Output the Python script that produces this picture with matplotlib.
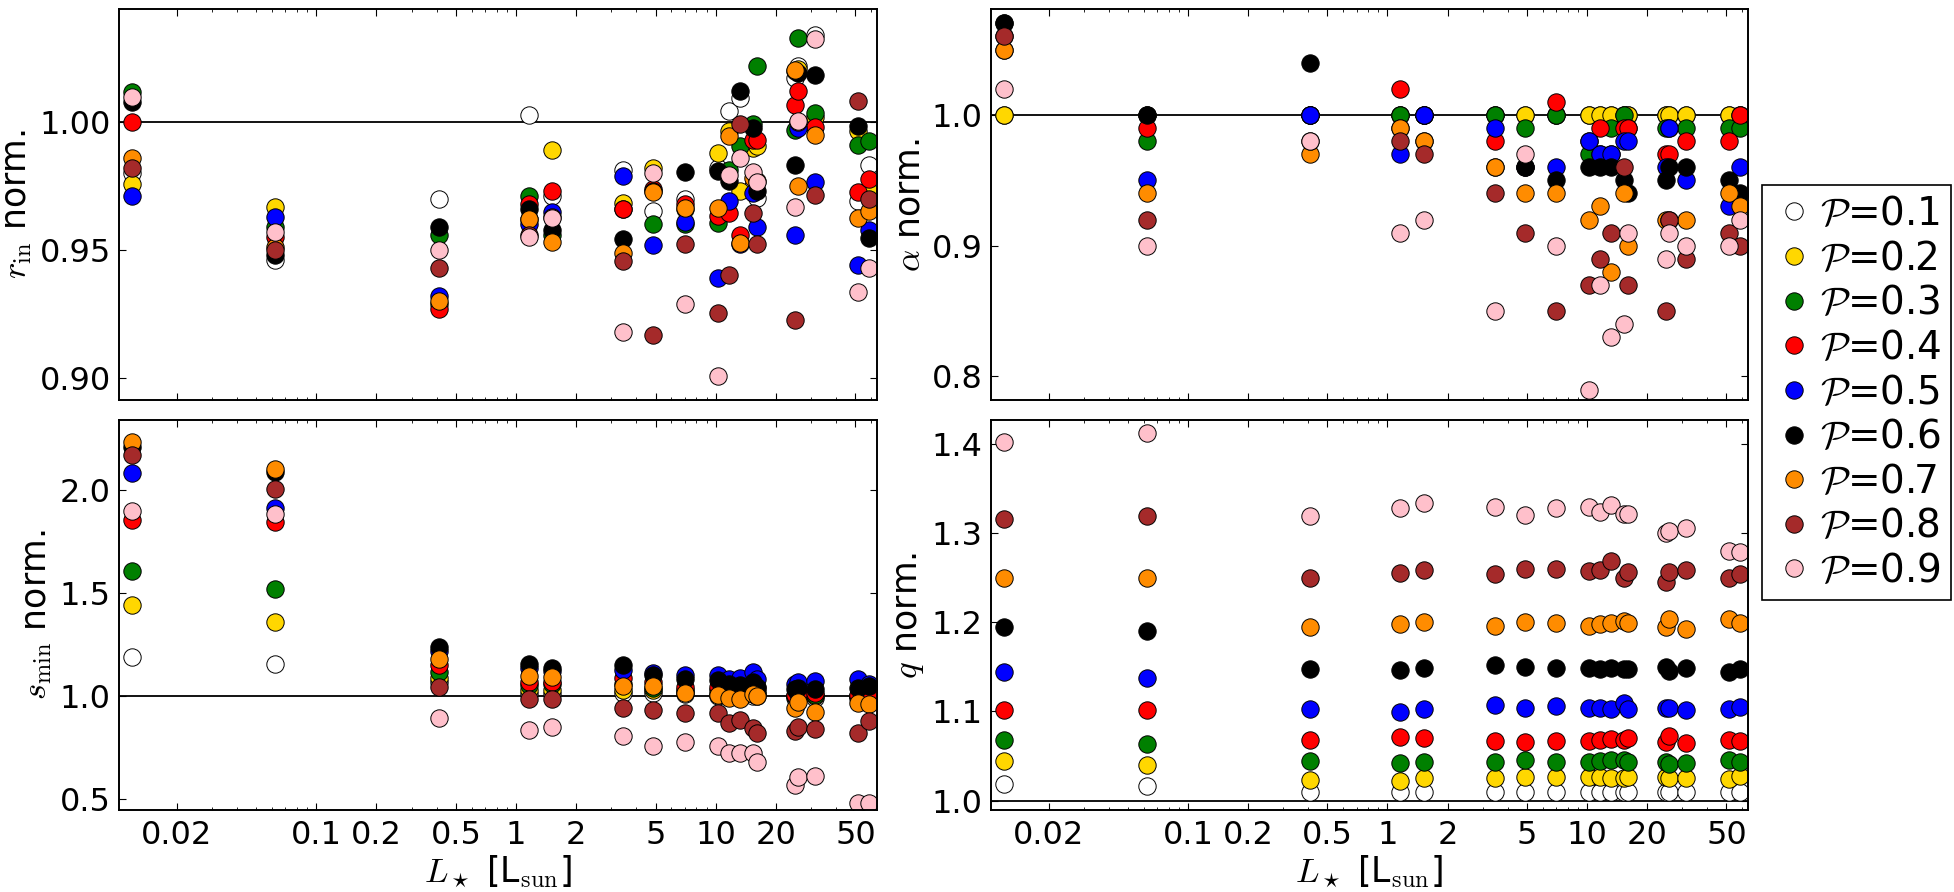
import numpy as np
import matplotlib
matplotlib.use("Agg")
import matplotlib.pyplot as plt
from matplotlib.lines import Line2D

# ---------------- data ----------------
L_star = [0.012, 0.062, 0.41, 1.16, 1.52, 3.44, 4.87, 7.02, 10.27, 11.66,
          13.2, 15.3, 16.0, 24.9, 25.9, 31.4, 51.4, 58.5]

P_values = [0.1, 0.2, 0.3, 0.4, 0.5, 0.6, 0.7, 0.8, 0.9]
P_colors = ["white", "gold", "green", "red", "blue", "black", "darkorange", "brown", "pink"]

x_ticks = [0.02, 0.1, 0.2, 0.5, 1, 2, 5, 10, 20, 50]
x_ticklabels = ["0.02", "0.1", "0.2", "0.5", "1", "2", "5", "10", "20", "50"]

# each row: one star (same order as L_star); columns: P = 0.1 ... 0.9
rin_by_star = [
    [0.980, 0.976, 1.012, 1.000, 0.971, 1.008, 0.986, 0.982, 1.010],
    [0.946, 0.967, 0.959, 0.955, 0.963, 0.948, 0.951, 0.950, 0.957],
    [0.970, 0.929, 0.956, 0.927, 0.932, 0.959, 0.930, 0.943, 0.950],
    [1.003, 0.962, 0.971, 0.968, 0.960, 0.966, 0.962, 0.956, 0.955],
    [0.971, 0.989, 0.956, 0.973, 0.965, 0.958, 0.953, 0.963, 0.9626],
    [0.9815, 0.9684, 0.966, 0.9662, 0.9789, 0.9544, 0.9489, 0.9456, 0.918],
    [0.9652, 0.982, 0.9602, 0.974, 0.9519, 0.973, 0.9726, 0.9167, 0.9802],
    [0.9698, 0.966, 0.960, 0.968, 0.9609, 0.9806, 0.9665, 0.9522, 0.9287],
    [0.982, 0.988, 0.9604, 0.9632, 0.9391, 0.9808, 0.9665, 0.9252, 0.9007],
    [1.0043, 0.9965, 0.9815, 0.9645, 0.9691, 0.9769, 0.9945, 0.940, 0.9793],
    [1.0095, 0.973, 0.9906, 0.956, 0.9522, 1.0121, 0.9528, 0.9993, 0.986],
    [0.975, 0.990, 0.9993, 0.993, 0.9724, 0.9978, 0.978, 0.9645, 0.9804],
    [0.9704, 0.9906, 1.0219, 0.9932, 0.9591, 0.973, 0.977, 0.9522, 0.9765],
    [1.0173, 1.020, 0.9971, 1.0069, 0.9557, 0.9834, 1.0206, 0.9224, 0.9669],
    [1.022, 1.021, 1.033, 1.0121, 0.9978, 1.0195, 0.9752, 1.000, 1.0004],
    [1.0343, 1.002, 1.0037, 0.998, 0.9765, 1.0186, 0.9952, 0.9717, 1.0326],
    [0.9691, 0.9965, 0.9913, 0.9728, 0.9441, 0.9987, 0.9626, 1.0082, 0.9336],
    [0.9834, 0.973, 0.9926, 0.9776, 0.958, 0.9548, 0.9652, 0.9698, 0.943],
]

alpha_by_star = [
    [1.00, 1.00, 1.07, 1.06, 1.05, 1.07, 1.05, 1.06, 1.02],
    [1.00, 1.00, 0.98, 0.99, 0.95, 1.00, 0.94, 0.92, 0.90],
    [1.00, 1.00, 1.00, 1.00, 1.00, 1.04, 0.97, 0.98, 0.98],
    [1.00, 1.00, 1.00, 1.02, 0.97, 0.99, 0.99, 0.98, 0.91],
    [1.00, 1.00, 1.00, 1.00, 1.00, 0.98, 0.98, 0.97, 0.92],
    [1.00, 1.00, 1.00, 0.98, 0.99, 0.96, 0.96, 0.94, 0.85],
    [1.00, 1.00, 0.99, 0.96, 0.96, 0.96, 0.94, 0.91, 0.97],
    [1.00, 1.00, 1.00, 1.01, 0.96, 0.95, 0.94, 0.85, 0.90],
    [1.00, 1.00, 0.97, 0.98, 0.98, 0.96, 0.92, 0.87, 0.79],
    [1.00, 1.00, 0.97, 0.99, 0.97, 0.96, 0.93, 0.89, 0.87],
    [1.00, 1.00, 0.99, 0.97, 0.97, 0.96, 0.88, 0.91, 0.83],
    [1.00, 1.00, 1.00, 0.99, 0.98, 0.95, 0.94, 0.96, 0.84],
    [1.00, 1.00, 0.99, 0.99, 0.98, 0.94, 0.90, 0.87, 0.91],
    [1.00, 1.00, 0.99, 0.97, 0.96, 0.95, 0.92, 0.85, 0.89],
    [1.00, 1.00, 0.99, 0.97, 0.99, 0.96, 0.92, 0.92, 0.91],
    [1.00, 1.00, 0.99, 0.98, 0.95, 0.96, 0.92, 0.89, 0.90],
    [1.00, 1.00, 0.99, 0.98, 0.93, 0.95, 0.94, 0.91, 0.90],
    [1.00, 1.00, 0.99, 1.00, 0.96, 0.94, 0.93, 0.90, 0.92],
]

smin_by_star = [
    [1.191, 1.442, 1.607, 1.854, 2.081, 2.21, 2.231, 2.17, 1.90],
    [1.155, 1.359, 1.519, 1.846, 1.914, 2.09, 2.102, 2.003, 1.883],
    [1.07, 1.086, 1.118, 1.15, 1.22, 1.239, 1.178, 1.045, 0.892],
    [1.01, 1.029, 1.053, 1.07, 1.134, 1.155, 1.097, 0.987, 0.835],
    [1.01, 1.029, 1.061, 1.07, 1.12, 1.134, 1.094, 0.987, 0.851],
    [1.013, 1.029, 1.06, 1.086, 1.126, 1.150, 1.050, 0.940, 0.807],
    [1.013, 1.03, 1.04, 1.07, 1.11, 1.102, 1.049, 0.932, 0.757],
    [1.01, 1.02, 1.03, 1.045, 1.102, 1.081, 1.016, 0.919, 0.775],
    [1.0, 1.01, 1.03, 1.045, 1.102, 1.078, 1.005, 0.919, 0.757],
    [1.0, 1.01, 1.02, 1.04, 1.081, 1.061, 0.989, 0.867, 0.725],
    [1.0, 1.01, 1.02, 1.04, 1.086, 1.053, 0.985, 0.883, 0.725],
    [1.0, 1.01, 1.03, 1.05, 1.118, 1.070, 1.010, 0.846, 0.725],
    [1.0, 1.01, 1.02, 1.04, 1.081, 1.045, 1.000, 0.819, 0.681],
    [0.99, 1.0, 1.0, 1.005, 1.061, 1.032, 0.940, 0.832, 0.568],
    [0.99, 1.0, 1.0, 1.01, 1.070, 1.037, 0.972, 0.851, 0.605],
    [0.99, 1.0, 1.005, 1.013, 1.074, 1.032, 0.924, 0.838, 0.613],
    [0.99, 1.0, 1.0, 1.005, 1.081, 1.037, 0.968, 0.819, 0.479],
    [0.99, 1.0, 1.013, 1.02, 1.06, 1.049, 0.961, 0.879, 0.479],
]

q_by_star = [
    [1.019, 1.044, 1.068, 1.1015, 1.1437, 1.1948, 1.250, 1.316, 1.402],
    [1.0168, 1.0399, 1.0634, 1.1015, 1.1377, 1.1899, 1.2489, 1.3187, 1.4123],
    [1.0101, 1.0231, 1.0444, 1.0679, 1.1026, 1.147, 1.1951, 1.250, 1.319],
    [1.0101, 1.0224, 1.0418, 1.0716, 1.0996, 1.1459, 1.1974, 1.2556, 1.328],
    [1.0101, 1.025, 1.0429, 1.0698, 1.1026, 1.1481, 1.2004, 1.2582, 1.3336],
    [1.0101, 1.025, 1.0437, 1.0668, 1.1071, 1.1519, 1.1955, 1.2534, 1.329],
    [1.0101, 1.0269, 1.0455, 1.066, 1.1041, 1.1496, 1.2004, 1.2593, 1.3198],
    [1.0101, 1.0269, 1.0429, 1.0672, 1.1063, 1.1481, 1.1996, 1.2593, 1.328],
    [1.0101, 1.0261, 1.0437, 1.0672, 1.1034, 1.1481, 1.1959, 1.257, 1.329],
    [1.0101, 1.0261, 1.0448, 1.0679, 1.1034, 1.147, 1.1978, 1.2582, 1.3235],
    [1.0101, 1.025, 1.0455, 1.069, 1.1026, 1.1481, 1.1996, 1.2687, 1.3317],
    [1.0101, 1.025, 1.0455, 1.0679, 1.11, 1.1474, 1.2015, 1.25, 1.3209],
    [1.0101, 1.0261, 1.0437, 1.0705, 1.1026, 1.147, 1.1996, 1.2563, 1.3209],
    [1.0101, 1.0261, 1.0429, 1.0653, 1.1034, 1.1493, 1.1948, 1.2451, 1.2993],
    [1.0101, 1.025, 1.041, 1.0728, 1.1041, 1.1451, 1.2034, 1.2563, 1.3019],
    [1.0101, 1.025, 1.0418, 1.0649, 1.1015, 1.1481, 1.1918, 1.2582, 1.306],
    [1.0101, 1.0243, 1.0455, 1.0679, 1.1026, 1.1444, 1.2034, 1.25, 1.2799],
    [1.0101, 1.0276, 1.0437, 1.0672, 1.1045, 1.1474, 1.1985, 1.2534, 1.2787],
]

# ---------------- style ----------------
plt.rcParams.update({
    "font.family": ["DejaVu Sans"],
    "mathtext.fontset": "cm",
    "mathtext.rm": "serif",
    "xtick.direction": "in",
    "ytick.direction": "in",
    "xtick.top": True,
    "ytick.right": True,
    "xtick.major.size": 5,
    "xtick.minor.size": 2.5,
    "ytick.major.size": 5,
    "ytick.minor.size": 2.5,
    "xtick.major.pad": 7,
    "ytick.major.pad": 6,
    "axes.linewidth": 1.4,
    "xtick.labelsize": 23,
    "ytick.labelsize": 23,
})

W, H = 1954, 892
fig = plt.figure(figsize=(W / 100, H / 100), dpi=100)
fig.patch.set_facecolor("white")


def box(x0, y0, x1, y1):
    return [x0 / W, 1 - y1 / H, (x1 - x0) / W, (y1 - y0) / H]


ax_rin = fig.add_axes(box(119, 9, 877, 400))
ax_alpha = fig.add_axes(box(991, 9, 1748, 400))
ax_smin = fig.add_axes(box(119, 420, 877, 810))
ax_q = fig.add_axes(box(991, 420, 1748, 810))

panels = [
    (ax_rin, rin_by_star, (0.8912, 1.0444), [0.90, 0.95, 1.00], "%.2f", r"$r_{\rm in}$ norm.", True),
    (ax_alpha, alpha_by_star, (0.782, 1.081), [0.8, 0.9, 1.0], "%.1f", r"$\alpha$ norm.", True),
    (ax_smin, smin_by_star, (0.447, 2.34), [0.5, 1.0, 1.5, 2.0], "%.1f", r"$s_{\rm min}$ norm.", False),
    (ax_q, q_by_star, (0.9896, 1.4264), [1.0, 1.1, 1.2, 1.3, 1.4], "%.1f", r"$q$ norm.", False),
]

for ax, table, ylim, yticks, yfmt, ylabel, top_row in panels:
    arr = np.array(table)
    ax.axhline(1.0, color="black", lw=1.3, zorder=1)
    for j, (P, col) in enumerate(zip(P_values, P_colors)):
        ax.plot(L_star, arr[:, j], "o", ms=12.5, mfc=col, mec="black", mew=0.7,
                zorder=2 + j * 0.01, label=r"$\mathcal{P}$=%.1f" % P)
    ax.set_xscale("log")
    ax.set_xlim(0.0103, 64.1)
    ax.set_ylim(*ylim)
    ax.set_xticks(x_ticks)
    ax.set_yticks(yticks)
    ax.set_yticklabels([yfmt % v for v in yticks])
    ax.yaxis.set_minor_locator(matplotlib.ticker.NullLocator())
    if top_row:
        ax.set_xticklabels([])
    else:
        ax.set_xticklabels(x_ticklabels)
        ax.set_xlabel(r"$L_\star$ [L$_{\rm sun}$]", fontsize=25, labelpad=2)
    ax.set_ylabel(ylabel, fontsize=25, labelpad=4)
    ax.xaxis.set_minor_formatter(matplotlib.ticker.NullFormatter())

handles = [Line2D([], [], ls="none", marker="o", ms=12.5, mfc=c, mec="black", mew=0.7)
           for c in P_colors]
labels = [r"$\mathcal{P}$=%.1f" % P for P in P_values]
leg = fig.legend(handles, labels, loc="upper left", bbox_to_anchor=(1762 / W, 1 - 185 / H),
                 fontsize=28, numpoints=1, handlelength=1.1, handletextpad=0.12,
                 borderaxespad=0.0, borderpad=0.26, labelspacing=0.17,
                 fancybox=False, framealpha=1.0, edgecolor="black")
leg.get_frame().set_linewidth(1.2)

fig.savefig("out.png", dpi=100, facecolor="white")
